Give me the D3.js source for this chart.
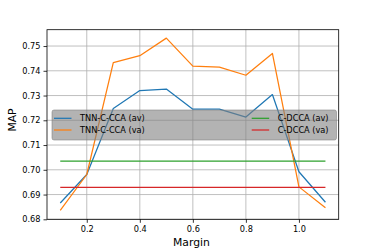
<!DOCTYPE html>
<html>
<head>
<meta charset="utf-8">
<script src="https://cdnjs.cloudflare.com/ajax/libs/d3/7.8.5/d3.min.js"></script>
<style>
  body { margin: 0; background: #fff; }
  text { font-family: "DejaVu Sans", sans-serif; fill: #000; }
  .grid line { stroke: #b0b0b0; stroke-width: 0.8; }
</style>
</head>
<body>
<svg width="376" height="251"></svg>
<script>
var svg = d3.select('svg');
var margin = {top: 29.7, right: 37.3, bottom: 31.7, left: 47};
var width = 376 - margin.left - margin.right,
    height = 251 - margin.top - margin.bottom;

// data
var margins = [0.1, 0.2, 0.3, 0.4, 0.5, 0.6, 0.7, 0.8, 0.9, 1.0, 1.1];
var tnnAv = [0.6866, 0.6981, 0.7248, 0.7320, 0.7326, 0.7245, 0.7245, 0.7213, 0.7304, 0.6992, 0.6869];
var tnnVa = [0.6836, 0.6981, 0.7433, 0.7461, 0.7532, 0.7419, 0.7415, 0.7382, 0.7470, 0.6931, 0.6847];
var dccaAv = 0.7035;
var dccaVa = 0.6929;
var xTicks = [0.2, 0.4, 0.6, 0.8, 1.0];
var yTicks = [0.68, 0.69, 0.70, 0.71, 0.72, 0.73, 0.74, 0.75];

var series = [
  {name: 'TNN-C-CCA (av)', color: '#1f77b4', values: tnnAv},
  {name: 'TNN-C-CCA (va)', color: '#ff7f0e', values: tnnVa},
  {name: 'C-DCCA (av)', color: '#2ca02c', values: margins.map(function() { return dccaAv; })},
  {name: 'C-DCCA (va)', color: '#d62728', values: margins.map(function() { return dccaVa; })}
];

var x = d3.scaleLinear().domain([0.05, 1.15]).range([0, width]);
var y = d3.scaleLinear().domain([0.68, 0.7566]).range([height, 0]);

var g = svg.append('g')
    .attr('transform', 'translate(' + margin.left + ',' + margin.top + ')');

// grid
g.append('g').attr('class', 'grid')
  .selectAll('line').data(xTicks).enter().append('line')
    .attr('x1', function(d) { return x(d); }).attr('x2', function(d) { return x(d); })
    .attr('y1', 0).attr('y2', height);
g.append('g').attr('class', 'grid')
  .selectAll('line').data(yTicks).enter().append('line')
    .attr('y1', function(d) { return y(d); }).attr('y2', function(d) { return y(d); })
    .attr('x1', 0).attr('x2', width);

var line = d3.line()
    .x(function(d, i) { return x(margins[i]); })
    .y(function(d) { return y(d); });

series.forEach(function(s) {
  g.append('path')
    .datum(s.values)
    .attr('fill', 'none')
    .attr('stroke', s.color)
    .attr('stroke-width', 1.25)
    .attr('stroke-linejoin', 'round')
    .attr('d', line);
});

// axes
var xAxis = d3.axisBottom(x).tickValues(xTicks).tickSize(3.5).tickPadding(3)
    .tickFormat(d3.format('.1f'));
var yAxis = d3.axisLeft(y).tickValues(yTicks).tickSize(3.5).tickPadding(3)
    .tickFormat(d3.format('.2f'));

var gx = g.append('g')
    .attr('transform', 'translate(0,' + height + ')')
    .call(xAxis);
var gy = g.append('g').call(yAxis);
[gx, gy].forEach(function(a) {
  a.select('.domain').remove();
  a.selectAll('text').style('font-size', '8.2px').style('font-family', '"DejaVu Sans", sans-serif');
  a.selectAll('line').attr('stroke', '#000').attr('stroke-width', 0.8);
});

g.append('rect')
    .attr('width', width).attr('height', height)
    .attr('fill', 'none').attr('stroke', '#000').attr('stroke-width', 0.8);

// legend
var leg = g.append('g').attr('transform', 'translate(5,' + (110 - margin.top) + ')');
leg.append('rect')
    .attr('width', 284.5).attr('height', 30).attr('rx', 2)
    .attr('fill', '#808080').attr('fill-opacity', 0.6)
    .attr('stroke', '#808080').attr('stroke-opacity', 0.7).attr('stroke-width', 0.8);
series.forEach(function(s, i) {
  var col = i < 2 ? 0 : 1, row = i % 2;
  var lx = col ? 199.7 : 2, ly = row ? 20 : 8.3;
  leg.append('line')
    .attr('x1', lx).attr('x2', lx + 17.5)
    .attr('y1', ly).attr('y2', ly)
    .attr('stroke', s.color).attr('stroke-width', 1.25);
  leg.append('text')
    .attr('x', lx + 26).attr('y', ly + 3)
    .style('font-size', '8.2px')
    .text(s.name);
});

// axis labels
svg.append('text')
    .attr('x', 191.5).attr('y', 245.5)
    .attr('text-anchor', 'middle')
    .style('font-size', '10.8px')
    .text('Margin');
svg.append('text')
    .attr('transform', 'translate(15.5,120) rotate(-90)')
    .attr('text-anchor', 'middle')
    .style('font-size', '10.8px')
    .text('MAP');
</script>
</body>
</html>
